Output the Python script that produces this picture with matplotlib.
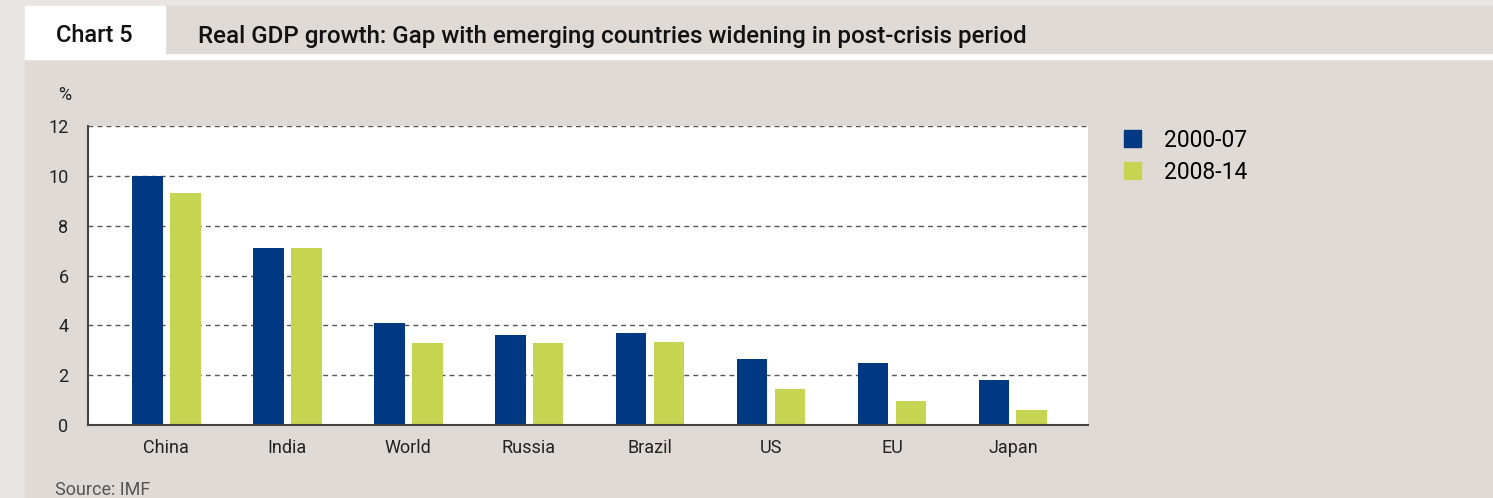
import matplotlib.pyplot as plt
from matplotlib.patches import Rectangle, Patch
import numpy as np

plt.rcParams['font.family'] = ['Roboto', 'DejaVu Sans']

countries = ["China", "India", "World", "Russia", "Brazil", "US", "EU", "Japan"]
growth_2000_07 = [10.0, 7.1, 4.1, 3.6, 3.7, 2.65, 2.5, 1.8]
growth_2008_14 = [9.3, 7.1, 3.3, 3.3, 3.35, 1.45, 0.95, 0.6]
series_labels = ["2000-07", "2008-14"]
yticks = [0, 2, 4, 6, 8, 10, 12]

W, H = 1493, 498
blue = "#003882"
green = "#c5d551"
panel = "#dfdad6"

fig = plt.figure(figsize=(W / 100, H / 100), dpi=100)
fig.patch.set_facecolor("#e9e5e2")

def px_rect(x0, y0, x1, y1, color):
    # rectangle given in pixel coords from top-left
    fig.patches.append(Rectangle((x0 / W, 1 - y1 / H), (x1 - x0) / W, (y1 - y0) / H,
                                 transform=fig.transFigure, color=color, zorder=-5))

# header and panel blocks
px_rect(25, 59, W, H, panel)
px_rect(25, 53, W, 59, "white")
px_rect(165, 6, W, 53, panel)
px_rect(25, 6, 165, 59, "white")

fig.text(56 / W, 1 - 36 / H, "Chart 5", fontsize=17, fontweight="medium", va="center", color="#111111")
fig.text(198 / W, 1 - 36 / H, "Real GDP growth: Gap with emerging countries widening in post-crisis period",
         fontsize=17.4, fontweight="medium", va="center", color="#111111")
fig.text(58 / W, 1 - 95 / H, "%", fontsize=13, va="center", color="#222222")
fig.text(55 / W, 1 - 490 / H, "Source: IMF", fontsize=13, va="center", color="#555555")

ax = fig.add_axes([88 / W, (H - 425) / H, 1000 / W, (425 - 126) / H])
ax.set_zorder(2)
ax.set_facecolor("white")

x = np.arange(len(countries))
w = 0.256
off = 0.157
ax.bar(x - off, growth_2000_07, width=w, color=blue, zorder=3)
ax.bar(x + off, growth_2008_14, width=w, color=green, zorder=3)

ax.set_xlim(-0.645, 7.62)
ax.set_ylim(0, 12)
ax.set_yticks(yticks)
ax.set_xticks(x)
ax.set_xticklabels(countries)
ax.tick_params(axis="both", length=0, labelsize=13, colors="#222222")
ax.tick_params(axis="y", pad=14)
ax.tick_params(axis="x", pad=10)
ax.yaxis.grid(True, linestyle=(0, (3.5, 3)), color="#555555", linewidth=1, zorder=1)
ax.set_axisbelow(True)
for s in ["top", "right"]:
    ax.spines[s].set_visible(False)
for s in ["left", "bottom"]:
    ax.spines[s].set_color("#444444")
    ax.spines[s].set_linewidth(1.5)
    ax.spines[s].set_zorder(4)

handles = [Patch(color=blue), Patch(color=green)]
leg = fig.legend(handles, series_labels, loc="upper left", bbox_to_anchor=(1103 / W, 1 - 108 / H),
                 frameon=False, fontsize=16.5, handlelength=0.75, handleheight=0.75,
                 handletextpad=1.0, labelspacing=0.4)
leg.set_zorder(3)

fig.savefig("out.png", dpi=100, facecolor=fig.get_facecolor())
